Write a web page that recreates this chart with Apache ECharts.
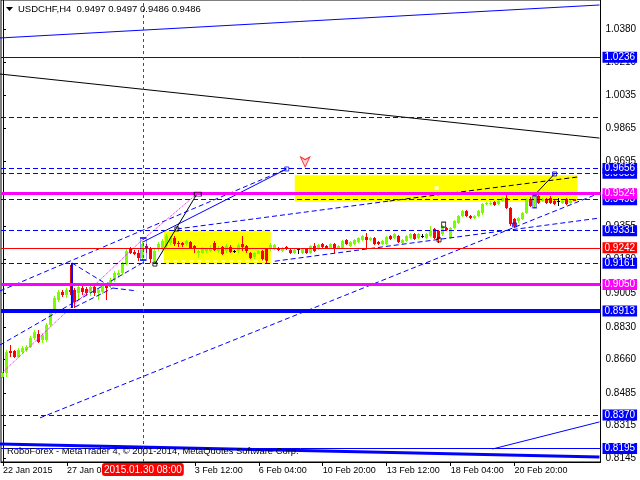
<!DOCTYPE html>
<html><head><meta charset="utf-8">
<script src="https://cdn.jsdelivr.net/npm/echarts@6/dist/echarts.min.js"></script>
<style>html,body{margin:0;padding:0;background:#fff}#c{width:640px;height:480px}</style>
</head><body><div id="c"></div>
<script>
// ---- data ----
const startTime = '2015-01-22T12:00:00Z';
const barCount = 150;
// OHLC: [open, close, low, high]
const ohlc = [
[0.8570,0.8590,0.8564,0.8595],[0.8590,0.8699,0.8570,0.8709],[0.8704,0.8694,0.8673,0.8735],[0.8704,0.8673,0.8668,0.8709],
[0.8673,0.8709,0.8668,0.8720],[0.8699,0.8720,0.8694,0.8730],[0.8709,0.8725,0.8699,0.8735],[0.8725,0.8771,0.8720,0.8782],
[0.8771,0.8803,0.8761,0.8813],[0.8792,0.8751,0.8746,0.8813],[0.8761,0.8787,0.8746,0.8797],[0.8761,0.8839,0.8751,0.8849],
[0.8839,0.8901,0.8829,0.8911],[0.8917,0.8979,0.8906,0.8989],[0.8968,0.9010,0.8958,0.9020],[0.9010,0.8994,0.8984,0.9020],
[0.8994,0.9020,0.8979,0.9031],[0.9020,0.9010,0.8994,0.9150],[0.9020,0.8958,0.8927,0.9031],[0.9005,0.9036,0.8968,0.9046],
[0.9031,0.9010,0.8994,0.9041],[0.9025,0.9005,0.8994,0.9036],[0.9005,0.9036,0.8989,0.9046],[0.9036,0.9005,0.8989,0.9056],
[0.9005,0.9020,0.8968,0.9031],[0.9010,0.9046,0.8999,0.9056],[0.9046,0.9031,0.8968,0.9056],[0.9046,0.9072,0.9031,0.9082],
[0.9072,0.9108,0.9061,0.9119],[0.9098,0.9113,0.9087,0.9124],[0.9108,0.9160,0.9098,0.9170],[0.9160,0.9227,0.9150,0.9238],
[0.9238,0.9217,0.9207,0.9248],[0.9222,0.9212,0.9202,0.9233],[0.9217,0.9191,0.9175,0.9233],[0.9191,0.9264,0.9175,0.9279],
[0.9253,0.9238,0.9217,0.9264],[0.9238,0.9186,0.9165,0.9248],[0.9175,0.9227,0.9160,0.9238],[0.9238,0.9264,0.9227,0.9274],
[0.9243,0.9279,0.9233,0.9289],[0.9253,0.9305,0.9243,0.9315],[0.9269,0.9295,0.9258,0.9305],[0.9295,0.9264,0.9253,0.9305],
[0.9269,0.9264,0.9248,0.9279],[0.9269,0.9258,0.9248,0.9274],[0.9264,0.9279,0.9253,0.9284],[0.9274,0.9243,0.9238,0.9279],
[0.9253,0.9238,0.9217,0.9258],[0.9217,0.9227,0.9191,0.9233],[0.9217,0.9238,0.9212,0.9248],[0.9227,0.9238,0.9217,0.9243],
[0.9227,0.9243,0.9222,0.9258],[0.9269,0.9233,0.9227,0.9279],[0.9227,0.9243,0.9217,0.9253],[0.9248,0.9212,0.9202,0.9253],
[0.9227,0.9253,0.9217,0.9264],[0.9248,0.9222,0.9217,0.9258],[0.9227,0.9227,0.9217,0.9233],[0.9227,0.9258,0.9217,0.9269],
[0.9264,0.9248,0.9227,0.9305],[0.9253,0.9227,0.9217,0.9258],[0.9217,0.9191,0.9186,0.9222],[0.9196,0.9217,0.9186,0.9222],
[0.9212,0.9227,0.9207,0.9233],[0.9227,0.9186,0.9175,0.9233],[0.9238,0.9175,0.9165,0.9243],[0.9238,0.9258,0.9227,0.9269],
[0.9238,0.9258,0.9233,0.9264],[0.9243,0.9233,0.9227,0.9248],[0.9227,0.9243,0.9222,0.9248],[0.9248,0.9238,0.9233,0.9253],
[0.9233,0.9217,0.9212,0.9238],[0.9217,0.9233,0.9212,0.9238],[0.9238,0.9238,0.9212,0.9243],[0.9217,0.9238,0.9212,0.9243],
[0.9238,0.9217,0.9212,0.9243],[0.9217,0.9253,0.9212,0.9258],[0.9253,0.9227,0.9222,0.9269],[0.9238,0.9258,0.9233,0.9264],
[0.9264,0.9248,0.9243,0.9269],[0.9253,0.9243,0.9238,0.9258],[0.9243,0.9264,0.9238,0.9269],[0.9264,0.9243,0.9217,0.9269],
[0.9243,0.9253,0.9238,0.9258],[0.9243,0.9279,0.9238,0.9284],[0.9284,0.9264,0.9258,0.9289],[0.9253,0.9274,0.9248,0.9279],
[0.9264,0.9284,0.9258,0.9289],[0.9274,0.9295,0.9269,0.9300],[0.9284,0.9305,0.9279,0.9310],[0.9300,0.9284,0.9243,0.9320],
[0.9284,0.9295,0.9279,0.9300],[0.9295,0.9264,0.9258,0.9300],[0.9274,0.9264,0.9258,0.9279],[0.9264,0.9279,0.9258,0.9284],
[0.9264,0.9300,0.9258,0.9305],[0.9305,0.9289,0.9284,0.9310],[0.9295,0.9315,0.9289,0.9320],[0.9305,0.9274,0.9269,0.9310],
[0.9269,0.9284,0.9264,0.9289],[0.9279,0.9305,0.9274,0.9310],[0.9295,0.9315,0.9289,0.9320],[0.9315,0.9289,0.9284,0.9320],
[0.9295,0.9315,0.9289,0.9320],[0.9305,0.9305,0.9295,0.9315],[0.9295,0.9315,0.9289,0.9320],[0.9305,0.9331,0.9300,0.9357],
[0.9341,0.9295,0.9289,0.9346],[0.9331,0.9289,0.9269,0.9336],[0.9315,0.9357,0.9305,0.9362],[0.9346,0.9336,0.9331,0.9352],
[0.9295,0.9346,0.9289,0.9352],[0.9346,0.9383,0.9341,0.9388],[0.9372,0.9409,0.9367,0.9414],[0.9409,0.9434,0.9403,0.9440],
[0.9434,0.9409,0.9403,0.9440],[0.9409,0.9398,0.9393,0.9414],[0.9398,0.9409,0.9393,0.9414],[0.9409,0.9434,0.9403,0.9440],
[0.9424,0.9471,0.9414,0.9476],[0.9471,0.9476,0.9465,0.9481],[0.9471,0.9476,0.9465,0.9486],[0.9481,0.9465,0.9460,0.9486],
[0.9471,0.9486,0.9465,0.9491],[0.9486,0.9502,0.9481,0.9507],[0.9502,0.9450,0.9445,0.9522],[0.9450,0.9367,0.9357,0.9455],
[0.9393,0.9357,0.9346,0.9398],[0.9383,0.9398,0.9372,0.9403],[0.9393,0.9424,0.9388,0.9429],[0.9424,0.9497,0.9419,0.9502],
[0.9497,0.9460,0.9455,0.9507],[0.9460,0.9512,0.9455,0.9517],[0.9512,0.9476,0.9471,0.9527],[0.9486,0.9497,0.9481,0.9502],
[0.9497,0.9476,0.9471,0.9502],[0.9502,0.9476,0.9471,0.9512],[0.9486,0.9471,0.9465,0.9491],[0.9486,0.9486,0.9460,0.9502],
[0.9476,0.9486,0.9471,0.9491],[0.9497,0.9471,0.9465,0.9502],[0.9476,0.9486,0.9471,0.9491],[0.9497,0.9486,0.9486,0.9497]
];
const xTickCats = ['2015.01.22 12:00','2015.01.27 04:00','2015.01.29 20:00','2015.02.03 12:00','2015.02.06 04:00','2015.02.10 20:00','2015.02.13 12:00','2015.02.18 04:00','2015.02.20 20:00'];
const xTickTexts = ['22 Jan 2015','27 Jan 04:00','29 Jan 20:00','3 Feb 12:00','6 Feb 04:00','10 Feb 20:00','13 Feb 12:00','18 Feb 04:00','20 Feb 20:00'];
const yTicks = [0.8145,0.8315,0.8485,0.8660,0.8830,0.9005,0.9180,0.9355,0.9525,0.9695,0.9865,1.0035,1.0210,1.0380];
const cursorTime = '2015.01.30 08:00';
const titleText = 'USDCHF,H4  0.9497 0.9497 0.9486 0.9486';
const footerText = 'RoboForex - MetaTrader 4, \u00a9 2001-2014, MetaQuotes Software Corp.';
// horizontal levels: [price, color, width, dashed, labelled, layer]
const levels = [
 [1.0236,'#0000ff',1,false,true,1],
 [0.9925,'#0000ff',1,true,false,1],
 [0.9630,'#0000ff',1,true,true,0],
 [0.9656,'#0000ff',1,true,true,1],
 [0.9493,'#0000ff',1,true,true,0],
 [0.9524,'#ff00ff',3,false,true,1],
 [0.9331,'#0000ff',1,true,true,1],
 [0.9242,'#ff0000',1,false,true,1],
 [0.9161,'#0000ff',1,true,true,1],
 [0.9050,'#ff00ff',3,false,true,1],
 [0.8913,'#0000ff',4,false,true,1],
 [0.8370,'#0000ff',1,true,true,1],
 [0.8195,'#0000ff',1,false,true,1]
];
// trend lines: list of [barIndex, price] points, color, width, style
const trendLines = [
 [[[-0.75,1.0336],[149.25,1.0508]],'#0000ff',1,'solid'],
 [[[-0.75,1.0148],[149.25,0.9814]],'#000000',1,'solid'],
 [[[-0.75,0.8219],[149.25,0.8151]],'#0000ff',3,'solid'],
 [[[122.5,0.8193],[149.25,0.8334]],'#0000ff',1,'solid'],
 [[[9.25,0.8355],[149.25,0.9527]],'#0000ff',1,'dash'],
 [[[68,0.9172],[149.25,0.9397]],'#0000ff',1,'dash'],
 [[[-0.75,0.9017],[71,0.9653]],'#0000ff',1,'dash'],
 [[[-0.75,0.8735],[35.5,0.9170]],'#0000ff',1,'dash'],
 [[[35,0.9272],[71,0.9653]],'#0000ff',1,'solid'],
 [[[38,0.9157],[48.5,0.9522]],'#000000',1,'solid'],
 [[[0,0.8594],[34.25,0.9272],[48.5,0.9522]],'#ff00ff',1,'dot'],
 [[[43.5,0.9340],[96.75,0.9486]],'#0000ff',1,'dash'],
 [[[96.75,0.9486],[143.75,0.9611]],'#000000',1,'dash'],
 [[[133.5,0.9528],[138,0.9627]],'#000000',1,'solid'],
 [[[17.25,0.9163],[17.25,0.8928]],'#0000ff',2,'solid'],
 [[[17.25,0.9163],[27.5,0.9032]],'#0000ff',1,'dash'],
 [[[18,0.8933],[27.5,0.9032]],'#0000ff',1,'dash'],
 [[[27.5,0.9032],[33.5,0.9017]],'#0000ff',1,'dash'],
 [[[40.5,0.9173],[66.75,0.9173]],'#ffffff',1,'dash']
];
const yellowZones = [[[40.25,0.9331],[67,0.9160]],[[73,0.9620],[143.75,0.9482]]];
// marker boxes: [barIndex, price, w, h, color]
const markerBoxes = [
 [35.1,0.9236,6,22,'#0000ff'],[38,0.9157,4,4,'#000000'],[43.5,0.9340,4,4,'#000000'],[48.75,0.9522,7,4,'#000000'],
 [71,0.9653,4,4,'#0000ff'],[110.25,0.9363,4,5,'#000000'],[109.1,0.9283,4,4,'#000000'],
 [128,0.9361,4,4,'#0000ff'],[133,0.9483,4,12,'#0000ff'],[138,0.9627,4,4,'#0000ff'],[108.5,0.9554,3,3,'#ffffff']
];
const arrowMark = [[75.6,0.9663]];

// ---- build ----
const categories = [];
{ let t = new Date(startTime).getTime(); while (categories.length < barCount) { const d = new Date(t); const wd = d.getUTCDay(); if (wd !== 0 && wd !== 6) { const p = n => String(n).padStart(2,'0'); categories.push(d.getUTCFullYear()+'.'+p(d.getUTCMonth()+1)+'.'+p(d.getUTCDate())+' '+p(d.getUTCHours())+':'+p(d.getUTCMinutes())); } t += 4*3600*1000; } }
const tickIdx = xTickCats.map(c => categories.indexOf(c));
const FONT = 'Liberation Sans';
const BULL = '#7cfc00', BEAR = '#ff0000', DOJI = '#000000';
const dashTypes = {solid:'solid', dash:[5,3], dot:[1,1]};
const chart = echarts.init(document.getElementById('c'), null, {renderer:'canvas'});
const series = [];
series.push({type:'line', xAxisIndex:1, data:[], silent:true, z:1,
  markArea:{silent:true, itemStyle:{color:'#ffff00'}, data: yellowZones.map(z=>[{coord:z[0]},{coord:z[1]}])}});
series.push({type:'custom', xAxisIndex:0, z:3, silent:true,
  data: ohlc.map((d,i)=>[i, d[0], d[1], d[2], d[3]]),
  encode:{x:0, y:[1,2,3,4]},
  renderItem:(params, api) => {
    const i = api.value(0), o = api.value(1), c = api.value(2), l = api.value(3), h = api.value(4);
    const xc = Math.round(api.coord([i, o])[0] - 0.5) + 0.5;
    const yo = api.coord([i, o])[1], yc = api.coord([i, c])[1];
    const yl = Math.round(api.coord([i, l])[1]), yh = Math.round(api.coord([i, h])[1]);
    const col = c > o ? BULL : (c < o ? BEAR : DOJI);
    const top = Math.round(Math.min(yo, yc)), bot = Math.round(Math.max(yo, yc));
    return {type:'group', children:[
      {type:'line', shape:{x1:xc, y1:yh, x2:xc, y2:yl}, style:{stroke:col, lineWidth:1}},
      {type:'rect', shape:{x:xc-1.5, y:top, width:3, height:Math.max(1, bot-top)}, style:{fill:col}}
    ]};
  }});
trendLines.forEach(l => series.push({type:'line', xAxisIndex:1, data:l[0], symbol:'none', silent:true, z:4,
  lineStyle:{color:l[1], width:l[2], type: dashTypes[l[3]]}}));
[0,1].forEach(layer => series.push({type:'line', xAxisIndex:1, data:[], silent:true, z: layer ? 7 : 5,
  markLine:{silent:true, symbol:['none','none'], precision:4, animation:false,
    data: levels.filter(v => v[5]===layer).map(v => ({yAxis:v[0], lineStyle:{color:v[1], width:v[2], type: v[3]?[5,3]:'solid'},
      label:{show:v[4], position:'end', distance:2, formatter: v[0].toFixed(4), backgroundColor: v[1], color:'#fff', fontFamily:FONT, fontSize:10, padding:[1,2,0,2]}}))}}));
markerBoxes.forEach(b => series.push({type:'scatter', xAxisIndex:1, data:[[b[0],b[1]]], symbol:'rect', symbolSize:[b[2],b[3]], silent:true, z:6,
  itemStyle:{color: b[4]==='#ffffff' ? '#ffffff' : 'rgba(0,0,0,0)', borderColor:b[4], borderWidth:1}}));
series.push({type:'scatter', xAxisIndex:1, data:arrowMark, symbol:'arrow', symbolRotate:180, symbolSize:[7,10], silent:true, z:6,
  itemStyle:{color:'#ffc0cb', borderColor:'#ff0000', borderWidth:1}});

chart.setOption({
  animation:false,
  backgroundColor:'#ffffff',
  tooltip:{show:true, triggerOn:'none'},
  grid:{left:0.5, right:39.5, top:0, bottom:18, show:true, borderColor:'#000', borderWidth:1},
  xAxis:[{type:'category', data:categories, boundaryGap:true, position:'bottom',
    axisLine:{show:true, lineStyle:{color:'#000'}},
    axisTick:{show:true, alignWithLabel:true, interval:(i)=>tickIdx.includes(i), length:4, lineStyle:{color:'#000'}},
    axisLabel:{interval:(i)=>tickIdx.includes(i), formatter:(v)=>{const k=xTickCats.indexOf(v);return k>=0?xTickTexts[k]:'';}, align:'left', margin:4, color:'#000', fontFamily:FONT, fontSize:9},
    splitLine:{show:false},
    axisPointer:{show:true, value:cursorTime, status:'show', type:'line', snap:false, triggerTooltip:false,
      lineStyle:{color:'#ff0000', width:1, type:[3,3]},
      label:{show:true, backgroundColor:'#ff0000', color:'#fff', fontFamily:FONT, fontSize:10, padding:[2,2,1,2], margin:1}}},
   {type:'value', min:-0.5, max:149.5, show:false}],
  yAxis:{type:'value', position:'right', min:0.8125, max:1.0534, scale:true,
    axisLine:{show:true, lineStyle:{color:'#000'}},
    axisTick:{show:true, customValues:yTicks, length:3, lineStyle:{color:'#000'}},
    axisLabel:{customValues:yTicks, formatter:(v)=>v.toFixed(4), color:'#000', fontFamily:FONT, fontSize:10, margin:5},
    splitLine:{show:false}},
  graphic:[
    {type:'polygon', shape:{points:[[6,7],[13,7],[9.5,11]]}, style:{fill:'#000'}, z:100},
    {type:'text', left:18, top:4, style:{text:titleText, fill:'#000', font:'9.5px "Liberation Sans"'}, z:100},
    {type:'text', left:7, top:447, style:{text:footerText, fill:'#000', font:'9.4px "Liberation Sans"'}, z:100}
  ],
  series: series
});
</script></body></html>
